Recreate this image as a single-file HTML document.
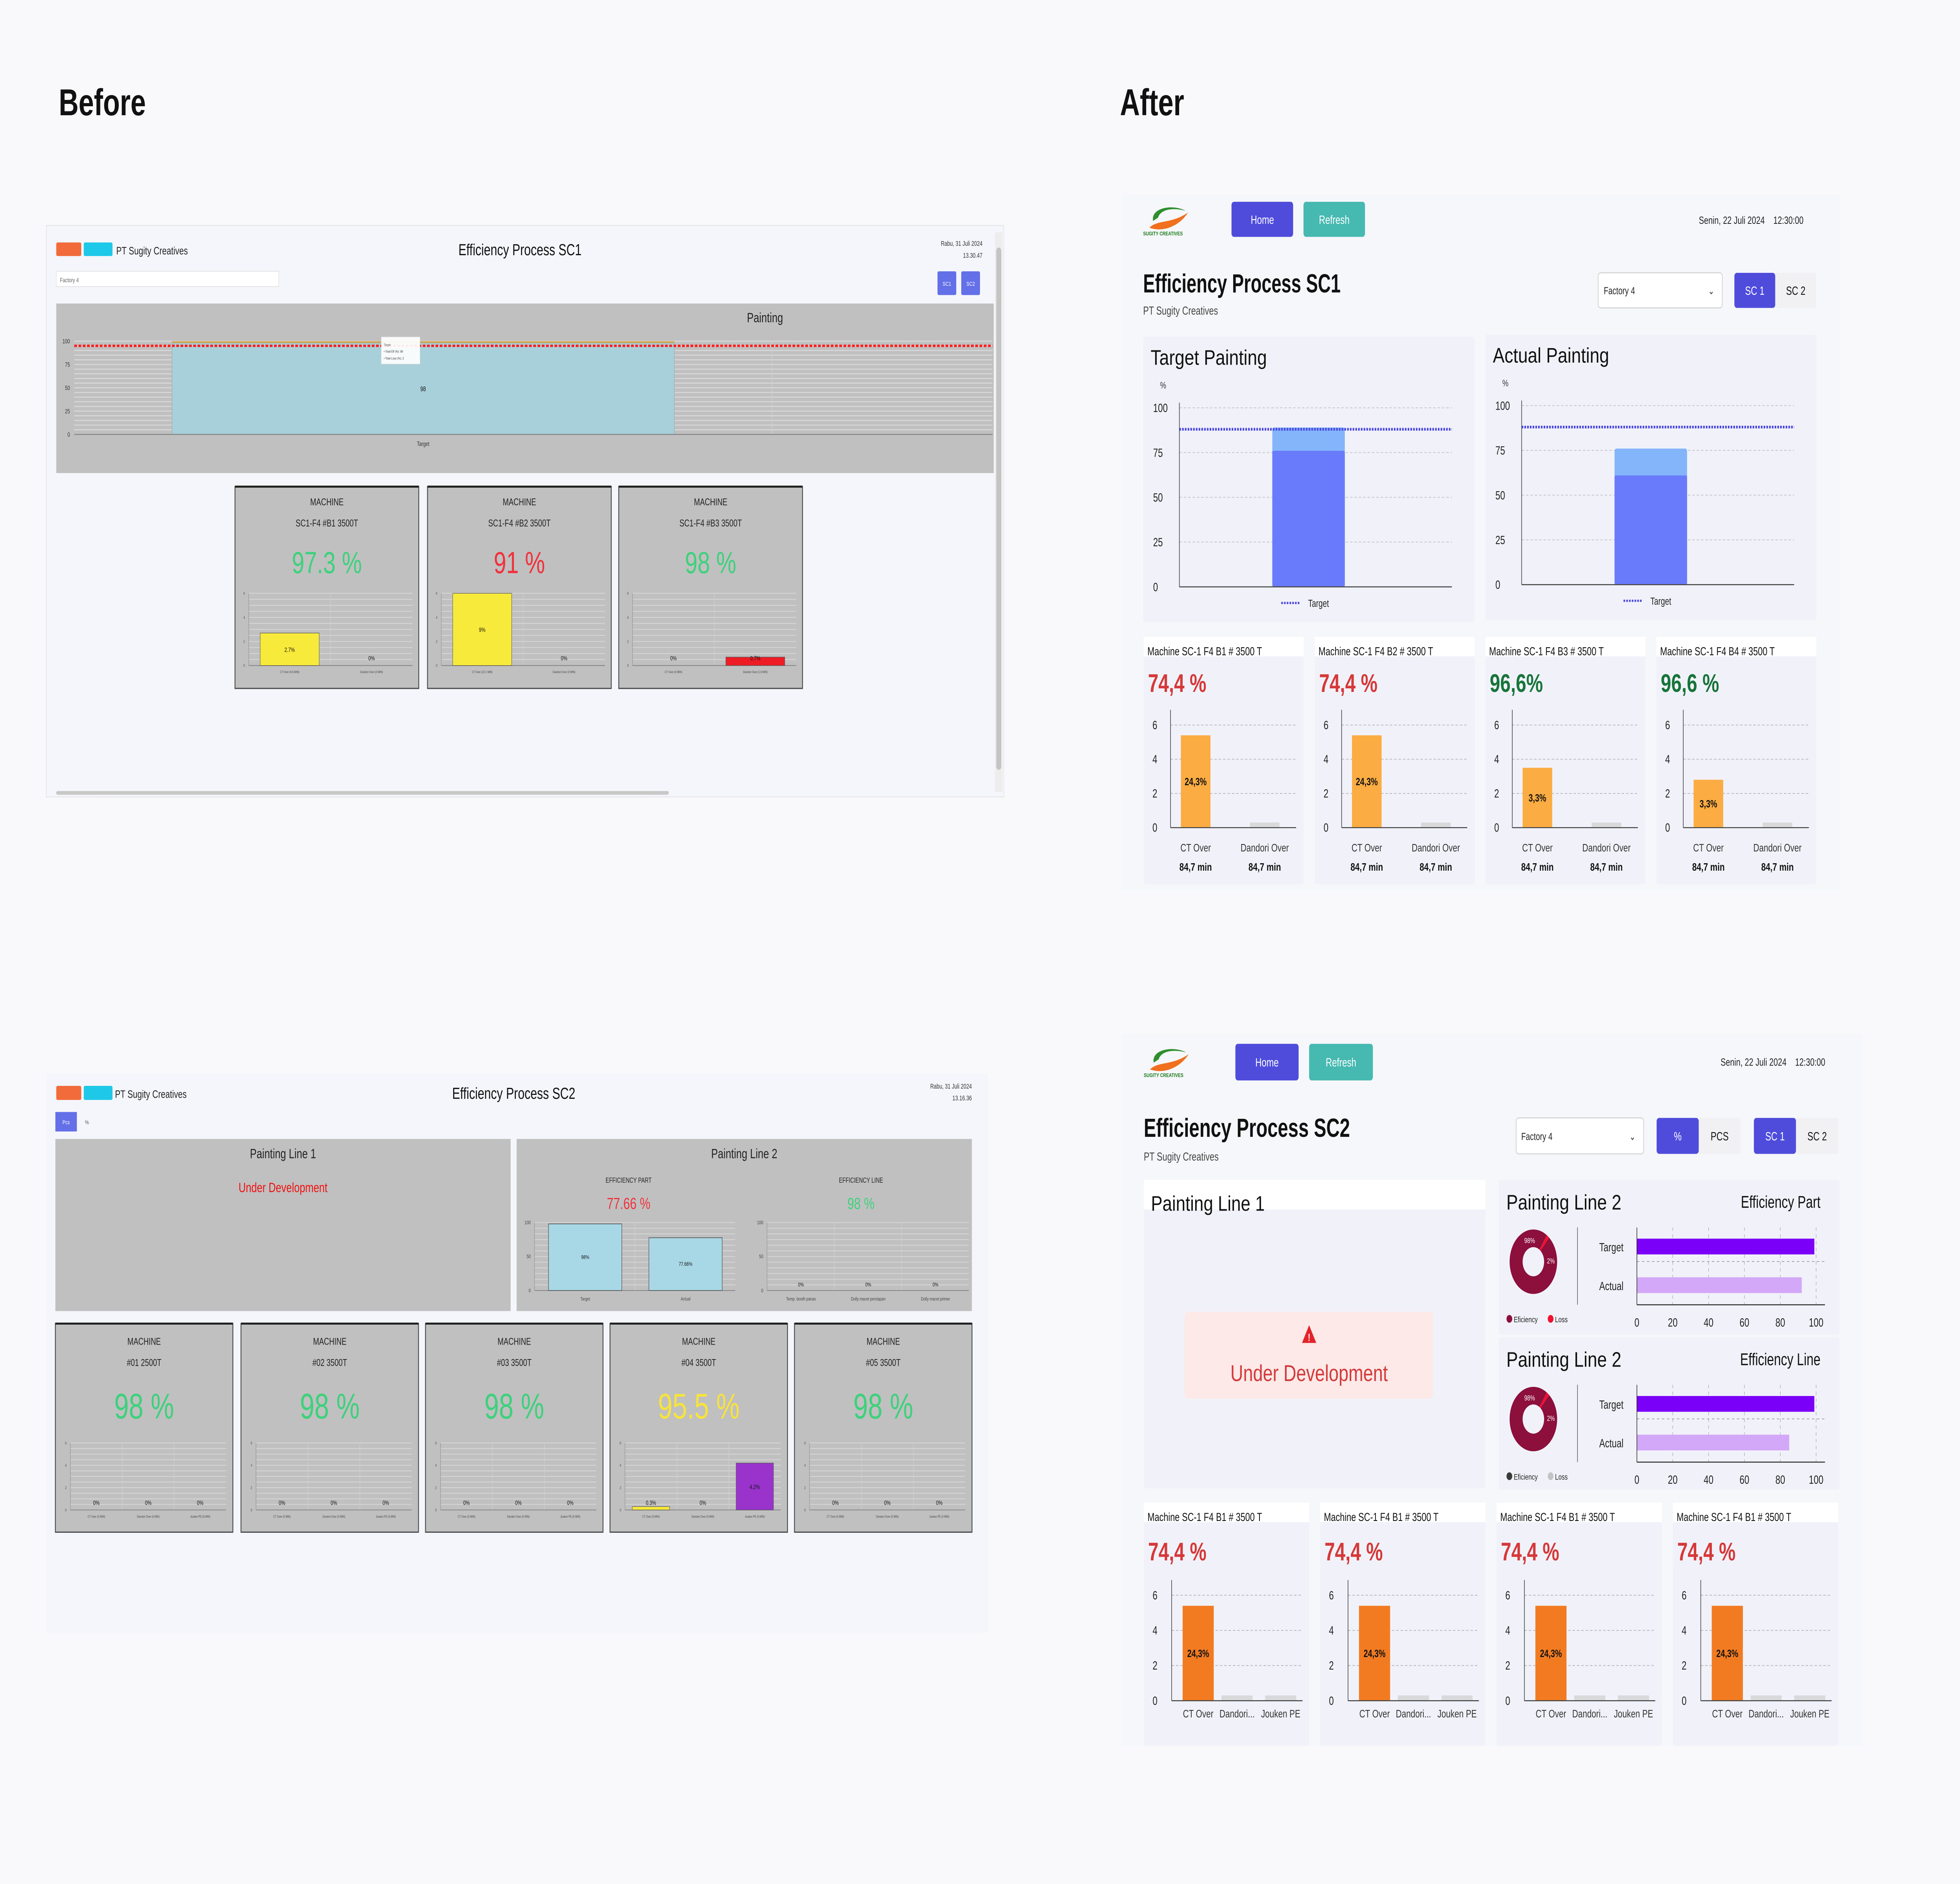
<!DOCTYPE html>
<html><head><meta charset="utf-8"><title>Efficiency Process Before / After</title>
<style>
html,body{margin:0;padding:0;background:#f9f9fb;width:100vw;height:100vh;overflow:hidden;}
svg#root{display:block;position:absolute;left:0;top:0;width:100vw;height:100vh;font-family:"Liberation Sans",Arial,sans-serif;}
</style></head>
<body>
<svg id="root" xmlns="http://www.w3.org/2000/svg" viewBox="0 0 1568 1111.1" preserveAspectRatio="none">
<rect x="0" y="0" width="1568" height="1111.1" fill="#f9f9fb"/>
<text x="47" y="68" font-size="22" font-weight="bold" fill="#111">Before</text>
<text x="896" y="68" font-size="22" font-weight="bold" fill="#111">After</text>

<!-- BEFORE SC1 -->
<g>
<rect x="37" y="133" width="766" height="337" fill="#f4f6fb" stroke="#e4e4e8" stroke-width="0.5"/>
<rect x="45" y="143" width="20" height="8" rx="1" fill="#f26b3a"/>
<rect x="67" y="143" width="23" height="8" rx="1" fill="#1ec8e8"/>
<text x="93" y="150" font-size="6.5" fill="#222">PT Sugity Creatives</text>
<text x="416" y="150.5" font-size="9.5" text-anchor="middle" fill="#111">Efficiency Process SC1</text>
<text x="786" y="145" font-size="4" text-anchor="end" fill="#333">Rabu, 31 Juli 2024</text>
<text x="786" y="152" font-size="4" text-anchor="end" fill="#333">13.30.47</text>
<rect x="45" y="160" width="178" height="9" fill="#fff" stroke="#e0e0e0" stroke-width="0.4"/>
<text x="48" y="166.5" font-size="3.6" fill="#666">Factory 4</text>
<rect x="750" y="160" width="15" height="14" rx="1" fill="#6370e8"/>
<text x="757.5" y="168.5" font-size="3.5" text-anchor="middle" fill="#fff">SC1</text>
<rect x="769" y="160" width="15" height="14" rx="1" fill="#6370e8"/>
<text x="776.5" y="168.5" font-size="3.5" text-anchor="middle" fill="#fff">SC2</text>
<rect x="45" y="179" width="750" height="100" fill="#c0c0c0"/>
<text x="612" y="190" font-size="8" text-anchor="middle" fill="#222">Painting</text>
<rect x="796" y="137" width="6" height="330" fill="#ededed"/>
<rect x="797" y="146" width="4" height="308" rx="2" fill="#c4c4c4"/>
<rect x="45" y="466.5" width="490" height="2.2" rx="1" fill="#c8c8c8"/>
<g id="b1main"></g>
<g id="b1cards"></g>
</g>

<!-- BEFORE SC2 -->
<g>
<rect x="37" y="633" width="753" height="330" fill="#f4f6fb"/>
<rect x="45" y="640.4" width="20" height="8.3" rx="1" fill="#f26b3a"/>
<rect x="67" y="640.4" width="23" height="8.3" rx="1" fill="#1ec8e8"/>
<text x="92" y="647.5" font-size="6.5" fill="#222">PT Sugity Creatives</text>
<text x="411" y="648" font-size="9.5" text-anchor="middle" fill="#111">Efficiency Process SC2</text>
<text x="777.5" y="642" font-size="4" text-anchor="end" fill="#333">Rabu, 31 Juli 2024</text>
<text x="777.5" y="649" font-size="4" text-anchor="end" fill="#333">13.16.36</text>
<rect x="44.3" y="655.8" width="17.2" height="11.5" fill="#6370e8"/>
<text x="52.9" y="663" font-size="3.5" text-anchor="middle" fill="#fff">Pcs</text>
<text x="68" y="663" font-size="3.5" fill="#555">%</text>
<rect x="44.3" y="671.7" width="364.2" height="101.5" fill="#c0c0c0"/>
<text x="226.4" y="683" font-size="8" text-anchor="middle" fill="#222">Painting Line 1</text>
<text x="226.4" y="703" font-size="8" text-anchor="middle" fill="#ee1111">Under Development</text>
<rect x="413.3" y="671.7" width="364.2" height="101.5" fill="#c0c0c0"/>
<text x="595.4" y="683" font-size="8" text-anchor="middle" fill="#222">Painting Line 2</text>
<text x="502.9" y="697.5" font-size="4.2" text-anchor="middle" fill="#222">EFFICIENCY PART</text>
<text x="502.9" y="713" font-size="9.5" text-anchor="middle" fill="#f0323c">77.66 %</text>
<text x="688.8" y="697.5" font-size="4.2" text-anchor="middle" fill="#222">EFFICIENCY LINE</text>
<text x="688.8" y="713" font-size="9.5" text-anchor="middle" fill="#3dd17c">98 %</text>
<g id="b2charts"></g>
<g id="b2cards"></g>
</g>

<!-- AFTER SC1 -->
<g>
<rect x="897" y="115" width="575" height="410" fill="#f6f7fa"/>
<g transform="translate(914.5,120.3)">
<path d="M8 10 C6 2, 24 0, 34 4 C24 2, 14 3, 12 8 Z" fill="#2f8f2f"/>
<path d="M5 14 C12 9, 22 12, 36 5 C29 13, 16 17, 5 14 Z" fill="#f07020"/>
<text x="0" y="18.5" font-size="3.3" font-weight="bold" fill="#1a7a1a">SUGITY CREATIVES</text>
</g>
<rect x="985.2" y="119" width="49.3" height="20.7" rx="2" fill="#4f4cdc"/>
<text x="1009.9" y="132" font-size="7" text-anchor="middle" fill="#fff">Home</text>
<rect x="1042.8" y="119" width="49.2" height="20.7" rx="2" fill="#46b9b1"/>
<text x="1067.4" y="132" font-size="7" text-anchor="middle" fill="#fff">Refresh</text>
<text x="1442.8" y="132" font-size="6.2" text-anchor="end" fill="#222">Senin, 22 Juli 2024 &#160;&#160;&#160;12:30:00</text>
<text x="914.5" y="172.5" font-size="15.5" font-weight="bold" fill="#111" textLength="158" lengthAdjust="spacingAndGlyphs">Efficiency Process SC1</text>
<text x="914.5" y="185.5" font-size="6.8" fill="#444">PT Sugity Creatives</text>
<rect x="1278.5" y="160.9" width="99.3" height="20.7" rx="2" fill="#fff" stroke="#ccc" stroke-width="0.5"/>
<text x="1283" y="173.5" font-size="6" fill="#222">Factory 4</text>
<text x="1369" y="173.5" font-size="6" fill="#333" text-anchor="middle">&#8964;</text>
<rect x="1387.5" y="160.9" width="32.7" height="20.7" rx="2" fill="#4f4cdc"/>
<text x="1403.8" y="173.8" font-size="7" text-anchor="middle" fill="#fff">SC 1</text>
<rect x="1420.2" y="160.9" width="32.8" height="20.7" fill="#f1f1f4"/>
<text x="1436.6" y="173.8" font-size="7" text-anchor="middle" fill="#111">SC 2</text>
<g id="a1paint"></g>
<g id="a1cards"></g>
</g>

<!-- AFTER SC2 -->
<g>
<rect x="897" y="610" width="593" height="420" fill="#f6f7fa"/>
<g transform="translate(915,616.7)">
<path d="M8 10 C6 2, 24 0, 34 4 C24 2, 14 3, 12 8 Z" fill="#2f8f2f"/>
<path d="M5 14 C12 9, 22 12, 36 5 C29 13, 16 17, 5 14 Z" fill="#f07020"/>
<text x="0" y="18.5" font-size="3.3" font-weight="bold" fill="#1a7a1a">SUGITY CREATIVES</text>
</g>
<rect x="988.3" y="615.6" width="50.6" height="21.6" rx="2" fill="#4f4cdc"/>
<text x="1013.6" y="629" font-size="7" text-anchor="middle" fill="#fff">Home</text>
<rect x="1047.3" y="615.6" width="51" height="21.6" rx="2" fill="#46b9b1"/>
<text x="1072.8" y="629" font-size="7" text-anchor="middle" fill="#fff">Refresh</text>
<text x="1460.2" y="628.5" font-size="6.2" text-anchor="end" fill="#222">Senin, 22 Juli 2024 &#160;&#160;&#160;12:30:00</text>
<text x="915" y="670.5" font-size="15.5" font-weight="bold" fill="#111" textLength="165" lengthAdjust="spacingAndGlyphs">Efficiency Process SC2</text>
<text x="915" y="684.5" font-size="6.8" fill="#444">PT Sugity Creatives</text>
<rect x="1212.9" y="659.3" width="102" height="21.2" rx="2" fill="#fff" stroke="#ccc" stroke-width="0.5"/>
<text x="1217" y="672.3" font-size="6" fill="#222">Factory 4</text>
<text x="1306" y="672.3" font-size="6" fill="#333" text-anchor="middle">&#8964;</text>
<rect x="1325.3" y="659.3" width="33.7" height="21.2" rx="2" fill="#4f4cdc"/>
<text x="1342.2" y="672.5" font-size="7" text-anchor="middle" fill="#fff">%</text>
<rect x="1359" y="659.3" width="33.4" height="21.2" fill="#f1f1f4"/>
<text x="1375.7" y="672.5" font-size="7" text-anchor="middle" fill="#111">PCS</text>
<rect x="1403.1" y="659.3" width="33.7" height="21.2" rx="2" fill="#4f4cdc"/>
<text x="1420" y="672.5" font-size="7" text-anchor="middle" fill="#fff">SC 1</text>
<rect x="1436.8" y="659.3" width="33.8" height="21.2" fill="#f1f1f4"/>
<text x="1453.7" y="672.5" font-size="7" text-anchor="middle" fill="#111">SC 2</text>
<rect x="915" y="695.8" width="273.4" height="182" rx="2" fill="#f1f2f9"/>
<rect x="915" y="695.8" width="273.4" height="17.5" fill="#fff"/>
<text x="920.8" y="714" font-size="12.5" fill="#111" textLength="91" lengthAdjust="spacingAndGlyphs">Painting Line 1</text>
<rect x="947.6" y="773.6" width="199" height="51.3" rx="3" fill="#fce9e8"/>
<path d="M1047.3 781.5 L1053 792 L1041.6 792 Z" fill="#e2242a"/>
<text x="1047.3" y="790.8" font-size="6" font-weight="bold" text-anchor="middle" fill="#fff">!</text>
<text x="1047.3" y="814.5" font-size="13.5" text-anchor="middle" fill="#d33a3a" textLength="126" lengthAdjust="spacingAndGlyphs">Under Development</text>
<g id="a2line2"></g>
<g id="a2cards"></g>
</g>
</svg>

<script>
// ---------- DATA ----------
// Before SC1
const b1Categories = ['Target'];
const b1Efficiency = [98];
const b1Loss = [2];
const b1TargetLine = [95];
const b1MachineNames = ['SC1-F4 #B1 3500T', 'SC1-F4 #B2 3500T', 'SC1-F4 #B3 3500T'];
const b1MachinePct = ['97.3 %', '91 %', '98 %'];
const b1MachineGood = [true, false, true];
const b1Ct = [2.7, 9, 0];
const b1Dandori = [0, 0, 0.7];
const b1CtLabels = ['CT Over (6.6 MIN)', 'CT Over (22.1 MIN)', 'CT Over (0 MIN)'];
const b1DandoriLabels = ['Dandori Over (0 MIN)', 'Dandori Over (0 MIN)', 'Dandori Over (1.8 MIN)'];
const b1YTicks = [0, 25, 50, 75, 100];
const miniTicks = [0, 2, 4, 6];
// Before SC2
const b2PartCategories = ['Target', 'Actual'];
const b2PartValues = [98, 77.66];
const b2LineCategories = ['Temp. booth panas', 'Dolly macet persiapan', 'Dolly macet primer'];
const b2LineValues = [0, 0, 0];
const b2YTicks = [0, 50, 100];
const b2MachineNames = ['#01 2500T', '#02 3500T', '#03 3500T', '#04 3500T', '#05 3500T'];
const b2MachinePct = ['98 %', '98 %', '98 %', '95.5 %', '98 %'];
const b2MachineColor = ['#3dd17c', '#3dd17c', '#3dd17c', '#f7e33b', '#3dd17c'];
const b2Ct = [0, 0, 0, 0.3, 0];
const b2Dandori = [0, 0, 0, 0, 0];
const b2Jouken = [0, 0, 0, 4.2, 0];
const b2CatLabels = ['CT Over (0 MIN)', 'Dandori Over (0 MIN)', 'Jouken PE (0 MIN)'];
// After SC1
const a1PaintTitles = ['Target Painting', 'Actual Painting'];
const a1PaintTotal = [89, 76];
const a1PaintBase = [76, 61];
const a1PaintTarget = [88, 88];
const a1YTicks = [0, 25, 50, 75, 100];
const a1MachineNames = ['Machine SC-1 F4 B1 # 3500 T', 'Machine SC-1 F4 B2 # 3500 T', 'Machine SC-1 F4 B3 # 3500 T', 'Machine SC-1 F4 B4 # 3500 T'];
const a1MachinePct = ['74,4 %', '74,4 %', '96,6%', '96,6 %'];
const a1MachineGood = [false, false, true, true];
const a1Ct = [5.4, 5.4, 3.5, 2.8];
const a1CtLabels = ['24,3%', '24,3%', '3,3%', '3,3%'];
const a1Dandori = [0.3, 0.3, 0.3, 0.3];
const a1Categories = ['CT Over', 'Dandori Over'];
const a1Minutes = ['84,7 min', '84,7 min'];
// After SC2
const a2Line2Titles = ['Efficiency Part', 'Efficiency Line'];
const a2DonutEff = [98, 98];
const a2DonutLoss = [2, 2];
const a2HTarget = [99, 99];
const a2HActual = [92, 85];
const a2XTicks = [0, 20, 40, 60, 80, 100];
const a2MachineNames = ['Machine SC-1 F4 B1 # 3500 T', 'Machine SC-1 F4 B1 # 3500 T', 'Machine SC-1 F4 B1 # 3500 T', 'Machine SC-1 F4 B1 # 3500 T'];
const a2MachinePct = ['74,4 %', '74,4 %', '74,4 %', '74,4 %'];
const a2Ct = [5.4, 5.4, 5.4, 5.4];
const a2CtLabels = ['24,3%', '24,3%', '24,3%', '24,3%'];
const a2Dandori = [0.3, 0.3, 0.3, 0.3];
const a2Jouken = [0.3, 0.3, 0.3, 0.3];
const a2Categories = ['CT Over', 'Dandori...', 'Jouken PE'];

// ---------- HELPERS ----------
const NS = 'http://www.w3.org/2000/svg';
function el(tag, attrs, parent) {
  const e = document.createElementNS(NS, tag);
  for (const k in attrs) e.setAttribute(k, attrs[k]);
  parent.appendChild(e);
  return e;
}
function tx(parent, x, y, s, size, fill, anchor, weight) {
  const t = el('text', {x: x, y: y, 'font-size': size, fill: fill || '#222', 'text-anchor': anchor || 'start', 'font-weight': weight || 'normal'}, parent);
  t.textContent = s;
  return t;
}
const clamp = (v, m) => Math.min(v, m);

// ---------- BEFORE SC1 MAIN CHART ----------
(function () {
  const g = document.getElementById('b1main');
  const y0 = 256.2, ppu = 0.55, x0 = 59.4, band = 558.2, xEnd = 794;
  const y = v => y0 - v * ppu;
  const grid = el('g', {}, g);
  
  
  for (let v = 0; v <= 100; v += 5) el('line', {x1: x0, x2: xEnd, y1: y(v), y2: y(v), stroke: '#d9d9d9', 'stroke-width': 0.6}, grid);
  el('line', {x1: x0 + band, x2: x0 + band, y1: y(100), y2: y0, stroke: '#d0d0d0', 'stroke-width': 0.5}, grid);
  b1YTicks.forEach(v => {
    const t = tx(g, 56, y(v) + 1.3, String(v), 3.6, '#333', 'end');
    
    
  });
  b1Categories.forEach((c, i) => {
    const bx = x0 + i * band + band * 0.14, bw = band * 0.72;
    const r = el('rect', {x: bx, y: y(b1Efficiency[i]), width: bw, height: y0 - y(b1Efficiency[i]), fill: '#a8d0da', stroke: '#8fb3bd', 'stroke-width': 0.4}, g);
    
    
    const l = el('rect', {x: bx, y: y(b1Efficiency[i] + b1Loss[i]), width: bw, height: y(b1Efficiency[i]) - y(b1Efficiency[i] + b1Loss[i]), fill: '#d2a659'}, g);
    
    
    const v = tx(g, bx + bw / 2, (y(b1Efficiency[i]) + y0) / 2 + 1.5, String(b1Efficiency[i]), 4, '#111', 'middle');
    
    
    const cl = tx(g, bx + bw / 2, 263, c, 3.6, '#333', 'middle');
    
    
  });
  const tl = el('line', {x1: x0, x2: xEnd, y1: y(b1TargetLine[0]), y2: y(b1TargetLine[0]), stroke: '#ff1c1c', 'stroke-width': 1.4, 'stroke-dasharray': '2.2 1.2'}, g);
  
  
  const ax = el('line', {x1: x0, x2: xEnd, y1: y0, y2: y0, stroke: '#888', 'stroke-width': 0.6}, g);
  
  
  const tip = el('rect', {x: 305, y: 198.7, width: 31, height: 16, fill: '#fff', opacity: 0.92, stroke: '#ddd', 'stroke-width': 0.3}, g);
  
  
  const t1 = tx(g, 307, 204, 'Target', 2, '#555');
  
  
  const t2 = tx(g, 307, 208, '• Total Eff (%): ' + b1Efficiency[0], 2, '#333');
  
  
  const t3 = tx(g, 307, 212, '• Total Loss (%): ' + b1Loss[0], 2, '#333');
  
  
})();

// ---------- generic old-style machine card ----------
function oldCard(parent, x, yTop, w, h, name, pct, pctColor, pctSize, plot, series, colors, catLabels, prefix) {
  const c = el('g', {}, parent);
  
  
  const bg = el('rect', {x: x, y: yTop, width: w, height: h, fill: '#c0c0c0', stroke: '#4a4a4a', 'stroke-width': 0.7}, c);
  
  
  const tb = el('line', {x1: x, x2: x + w, y1: yTop, y2: yTop, stroke: '#222', 'stroke-width': 1.2}, c);
  
  
  const m = tx(c, x + w / 2, yTop + plot.mY, 'MACHINE', 5.8, '#222', 'middle');
  
  
  const n = tx(c, x + w / 2, yTop + plot.nY, name, 5.8, '#222', 'middle');
  
  
  const p = tx(c, x + w / 2, yTop + plot.pY, pct, pctSize, pctColor, 'middle');
  
  
  const base = plot.base, top = plot.top, px0 = x + plot.left, pw = plot.width;
  const y = v => base - clamp(v, 6) / 6 * (base - top);
  const grid = el('g', {}, c);
  
  
  for (let v = 0; v <= 6; v += 0.5) el('line', {x1: px0, x2: px0 + pw, y1: y(v), y2: y(v), stroke: '#d6d6d6', 'stroke-width': 0.5}, grid);
  const nb = series.length, band = pw / nb;
  for (let k = 1; k < nb; k++) el('line', {x1: px0 + k * band, x2: px0 + k * band, y1: top, y2: base, stroke: '#d0d0d0', 'stroke-width': 0.4}, grid);
  el('line', {x1: px0, x2: px0, y1: top, y2: base, stroke: '#999', 'stroke-width': 0.4}, grid);
  el('line', {x1: px0, x2: px0 + pw, y1: base, y2: base, stroke: '#888', 'stroke-width': 0.5}, grid);
  miniTicks.forEach(v => {
    const t = tx(c, px0 - 3, y(v) + 0.8, String(v), 2.4, '#555', 'end');
    
    
  });
  series.forEach((v, i) => {
    const bw = band * 0.72, bx = px0 + i * band + band * 0.14;
    if (v > 0) {
      const r = el('rect', {x: bx, y: y(v), width: bw, height: base - y(v), fill: colors[i], stroke: '#555', 'stroke-width': 0.3}, c);
      
      
    }
    const ly = v > 0 ? Math.min(base - 3, (y(v) + base) / 2 + 1.5) : base - 3;
    const lt = tx(c, bx + bw / 2, ly, v + '%', 3.6, '#111', 'middle');
    
    
    const xl = tx(c, bx + bw / 2, base + 4.5, catLabels[i], 1.9, '#444', 'middle');
    
    
  });
}

// Before SC1 cards
(function () {
  const g = document.getElementById('b1cards');
  const xs = [188, 342, 495];
  b1MachineNames.forEach((nm, i) => {
    oldCard(g, xs[i], 287, 147, 119, nm, b1MachinePct[i], b1MachineGood[i] ? '#3dd17c' : '#f0323c', 18,
      {mY: 11, nY: 23.5, pY: 51, base: 392.5, top: 349.9, left: 11, width: 131},
      [b1Ct[i], b1Dandori[i]], ['#f8ea3a', '#ee1c25'], [b1CtLabels[i], b1DandoriLabels[i]], 'before-sc1');
  });
})();

// Before SC2 charts
(function () {
  const g = document.getElementById('b2charts');
  function vchart(px0, pw, cats, vals, name) {
    const base = 761.1, top = 721;
    const y = v => base - v / 100 * (base - top);
    const grid = el('g', {}, g);
    
    
    for (let v = 0; v <= 100; v += 8.33) el('line', {x1: px0, x2: px0 + pw, y1: y(v), y2: y(v), stroke: '#d6d6d6', 'stroke-width': 0.5}, grid);
    const band = pw / cats.length;
    for (let k = 1; k < cats.length; k++) el('line', {x1: px0 + k * band, x2: px0 + k * band, y1: top, y2: base, stroke: '#d0d0d0', 'stroke-width': 0.4}, grid);
    el('line', {x1: px0, x2: px0 + pw, y1: base, y2: base, stroke: '#888', 'stroke-width': 0.5}, grid);
    el('line', {x1: px0, x2: px0, y1: top, y2: base, stroke: '#999', 'stroke-width': 0.4}, grid);
    b2YTicks.forEach(v => {
      const t = tx(g, px0 - 3, y(v) + 1, String(v), 3, '#444', 'end');
      
      
    });
    cats.forEach((c, i) => {
      const bw = band * 0.73, bx = px0 + i * band + band * 0.14;
      if (vals[i] > 0) {
        const r = el('rect', {x: bx, y: y(vals[i]), width: bw, height: base - y(vals[i]), fill: '#a8d8e6', stroke: '#555', 'stroke-width': 0.4}, g);
        
        
      }
      const ly = vals[i] > 0 ? (y(vals[i]) + base) / 2 + 1 : base - 2.5;
      const lt = tx(g, bx + bw / 2, ly, vals[i] + '%', 3.2, '#111', 'middle');
      
      
      const xl = tx(g, bx + bw / 2, 767, c, 2.8, '#444', 'middle');
      
      
    });
  }
  vchart(427.6, 160.6, b2PartCategories, b2PartValues, 'efficiency-part-chart');
  vchart(613.6, 161.4, b2LineCategories, b2LineValues, 'efficiency-line-chart');
})();

// Before SC2 cards
(function () {
  const g = document.getElementById('b2cards');
  const xs = [44.3, 192.8, 340.4, 488, 635.6];
  b2MachineNames.forEach((nm, i) => {
    oldCard(g, xs[i], 780.6, 142, 123, nm, b2MachinePct[i], b2MachineColor[i], 21,
      {mY: 12.5, nY: 25, pY: 56, base: 890.5, top: 851, left: 12, width: 124.6},
      [b2Ct[i], b2Dandori[i], b2Jouken[i]], ['#f8ea3a', '#ee1c25', '#9933cc'], b2CatLabels, 'before-sc2');
  });
})();

// ---------- AFTER SC1 PAINTING CHARTS ----------
(function () {
  const g = document.getElementById('a1paint');
  const cards = [[914.5, 198.6], [1188.3, 197.3]];
  a1PaintTitles.forEach((title, i) => {
    const cx = cards[i][0], cy = cards[i][1], w = 265, h = 168.5;
    const c = el('g', {}, g);
    
    
    const bg = el('rect', {x: cx, y: cy, width: w, height: h, rx: 2, fill: '#f1f2f9'}, c);
    
    
    const t = tx(c, cx + 6, cy + 16.5, title, 12.5, '#111');
    t.setAttribute('textLength', 93);
    t.setAttribute('lengthAdjust', 'spacingAndGlyphs');
    
    
    const u = tx(c, cx + 16, cy + 30.5, '%', 5.5, '#333', 'middle');
    
    
    const base = cy + 147.5, top = cy + 41.9, px0 = cx + 29, px1 = cx + 247;
    const y = v => base - v / 100 * (base - top);
    a1YTicks.forEach(v => {
      const gl = el('line', {x1: px0, x2: px1, y1: y(v), y2: y(v), stroke: '#c8c8cc', 'stroke-width': 0.5, 'stroke-dasharray': '2 1.5'}, c);
      
      
      const tk = tx(c, cx + 8, y(v) + 2.5, String(v), 7, '#222');
      
      
    });
    const bcx = cx + 132.35, bw = 58;
    const r1 = el('rect', {x: bcx - bw / 2, y: y(a1PaintTotal[i]), width: bw, height: base - y(a1PaintTotal[i]), rx: 1.5, fill: '#84b5fb'}, c);
    
    
    const r2 = el('rect', {x: bcx - bw / 2, y: y(a1PaintBase[i]), width: bw, height: base - y(a1PaintBase[i]), rx: 1, fill: '#697bfb'}, c);
    
    
    const ya = el('line', {x1: px0, x2: px0, y1: top - 3, y2: base, stroke: '#444', 'stroke-width': 0.5}, c);
    
    
    const xa = el('line', {x1: px0, x2: px1, y1: base, y2: base, stroke: '#444', 'stroke-width': 0.6}, c);
    
    
    const tl = el('line', {x1: px0, x2: px1, y1: y(a1PaintTarget[i]), y2: y(a1PaintTarget[i]), stroke: '#4a45e0', 'stroke-width': 1.6, 'stroke-dasharray': '1.3 0.9'}, c);
    
    
    const ll = el('line', {x1: cx + 110.5, x2: cx + 125, y1: cy + 157, y2: cy + 157, stroke: '#4a45e0', 'stroke-width': 1.3, 'stroke-dasharray': '1.3 0.9'}, c);
    
    
    const lt = tx(c, cx + 132, cy + 159.3, 'Target', 6, '#222');
    
    
  });
})();

// ---------- new-style machine card ----------
function newCard(parent, x, yTop, w, h, name, pct, pctColor, plot, vals, colors, cats, valLabel, minutes) {
  const c = el('g', {}, parent);
  
  
  const bg = el('rect', {x: x, y: yTop, width: w, height: h, rx: 2, fill: '#f1f2f9'}, c);
  
  
  const hd = el('rect', {x: x, y: yTop, width: w, height: 11.5, fill: '#fff'}, c);
  
  
  const t = tx(c, x + 3, yTop + 10.8, name, 6.8, '#111');
  
  
  const p = tx(c, x + 3.5, yTop + plot.pY, pct, 15, pctColor, 'start', 'bold');
  
  
  const base = plot.base, top = plot.top, px0 = x + plot.left, px1 = x + plot.right;
  const y = v => base - v / 6 * (base - top);
  [2, 4, 6].forEach(v => {
    const gl = el('line', {x1: px0, x2: px1, y1: y(v), y2: y(v), stroke: '#bdbdc4', 'stroke-width': 0.5, 'stroke-dasharray': '2 1.5'}, c);
    
    
  });
  miniTicks.forEach(v => {
    const tk = tx(c, x + 9, y(v) + 2.4, String(v), 7, '#222', 'middle');
    
    
  });
  const ya = el('line', {x1: px0, x2: px0, y1: top - 9, y2: base, stroke: '#444', 'stroke-width': 0.5}, c);
  
  
  const band = (px1 - px0) / vals.length;
  vals.forEach((v, i) => {
    const bw = plot.barW, bx = px0 + i * band + (band - bw) / 2 + (i === 0 ? plot.firstShift : 0);
    const r = el('rect', {x: bx, y: y(v), width: bw, height: base - y(v), fill: colors[i]}, c);
    
    
    if (i === 0) {
      const vl = tx(c, bx + bw / 2, (y(v) + base) / 2 + 2.2, valLabel, 6.2, '#111', 'middle', 'bold');
      
      
    }
    const cl = tx(c, px0 + i * band + band / 2 + (i === 0 ? plot.firstShift : 0), base + plot.catDy, cats[i], 6.5, '#333', 'middle');
    
    
    if (minutes) {
      const ml = tx(c, px0 + i * band + band / 2 + (i === 0 ? plot.firstShift : 0), base + plot.catDy + 11.4, minutes[i], 6.5, '#111', 'middle', 'bold');
      
      
    }
  });
  const xa = el('line', {x1: px0, x2: px1, y1: base, y2: base, stroke: '#444', 'stroke-width': 0.6}, c);
  
  
}

// After SC1 cards
(function () {
  const g = document.getElementById('a1cards');
  const xs = [914.9, 1051.8, 1188.3, 1325.1];
  a1MachineNames.forEach((nm, i) => {
    newCard(g, xs[i], 375.6, 128, 146, nm, a1MachinePct[i], a1MachineGood[i] ? '#17743a' : '#d63838',
      {pY: 32.5, base: 488.1, top: 427.6, left: 21.5, right: 122, barW: 23.7, firstShift: -5, catDy: 14},
      [a1Ct[i], a1Dandori[i]], ['#fbac42', '#d9d9dc'], a1Categories, a1CtLabels[i], a1Minutes);
  });
})();

// ---------- AFTER SC2 LINE 2 ----------
(function () {
  const g = document.getElementById('a2line2');
  const tops = [695.8, 788.6];
  const x0 = 1199.1, w = 272.6;
  const xs = v => 1309.5 + v / 100 * (1452.9 - 1309.5);
  function pt(cx, cy, r, a) { return [cx + r * Math.sin(a), cy - r * Math.cos(a)]; }
  function arc(cx, cy, R, r, a0, a1) {
    const lg = (a1 - a0) > Math.PI ? 1 : 0;
    const p0 = pt(cx, cy, R, a0), p1 = pt(cx, cy, R, a1), q1 = pt(cx, cy, r, a1), q0 = pt(cx, cy, r, a0);
    return `M${p0[0]} ${p0[1]} A${R} ${R} 0 ${lg} 1 ${p1[0]} ${p1[1]} L${q1[0]} ${q1[1]} A${r} ${r} 0 ${lg} 0 ${q0[0]} ${q0[1]} Z`;
  }
  a2Line2Titles.forEach((title, i) => {
    const ty = tops[i];
    const c = el('g', {}, g);
    
    
    const bg = el('rect', {x: x0, y: ty, width: w, height: i === 0 ? 91.4 : 90, rx: 2, fill: '#f1f2f9'}, c);
    
    
    const t = tx(c, x0 + 6, ty + 17.5, 'Painting Line 2', 12.5, '#111');
    t.setAttribute('textLength', 92);
    t.setAttribute('lengthAdjust', 'spacingAndGlyphs');
    
    
    const st = tx(c, 1456.4, ty + 16.5, title, 10, '#111', 'end');
    
    
    const dcx = 1226.7, dcy = ty + 48.3, R = 19, r = 8.6;
    const tot = a2DonutEff[i] + a2DonutLoss[i];
    const start = 0.6;
    const lossEnd = start + a2DonutLoss[i] / tot * 2 * Math.PI;
    const ls = el('path', {d: arc(dcx, dcy, R, r, start, lossEnd), fill: '#f0112e'}, c);
    
    
    const es = el('path', {d: arc(dcx, dcy, R, r, lossEnd, start + 2 * Math.PI - 0.0001), fill: '#8c0f3c'}, c);
    
    
    const el1 = tx(c, dcx - 3, dcy - 11, a2DonutEff[i] + '%', 4.3, '#fff', 'middle');
    
    
    const el2 = tx(c, dcx + 14, dcy + 1, a2DonutLoss[i] + '%', 4.3, '#fff', 'middle');
    
    
    const lc1 = el('circle', {cx: 1207.5, cy: ty + 82, r: 2.3, fill: i === 0 ? '#8c0f3c' : '#3a3a3a'}, c);
    
    
    const lt1 = tx(c, 1211, ty + 84, 'Eficiency', 4.8, '#222');
    
    
    const lc2 = el('circle', {cx: 1240.5, cy: ty + 82, r: 2.3, fill: i === 0 ? '#f0112e' : '#c4c4c4'}, c);
    
    
    const lt2 = tx(c, 1244, ty + 84, 'Loss', 4.8, '#222');
    
    
    const sep = el('line', {x1: 1262, x2: 1262, y1: ty + 28, y2: ty + 73.7, stroke: '#666', 'stroke-width': 0.5}, c);
    
    
    const pt0 = ty + 28.1, pb = ty + 73.7;
    a2XTicks.forEach(v => {
      if (v > 0) {
        const gl = el('line', {x1: xs(v), x2: xs(v), y1: pt0, y2: pb, stroke: '#aaa', 'stroke-width': 0.4, 'stroke-dasharray': '2 2'}, c);
        
        
      }
      const tk = tx(c, xs(v), ty + 86.5, String(v), 7, '#222', 'middle');
      
      
    });
    const mid = el('line', {x1: xs(0), x2: 1460, y1: ty + 48.2, y2: ty + 48.2, stroke: '#999', 'stroke-width': 0.4, 'stroke-dasharray': '2 2'}, c);
    
    
    const tb = el('rect', {x: xs(0), y: ty + 34.7, width: xs(a2HTarget[i]) - xs(0), height: 9.3, fill: '#7a00f8'}, c);
    
    
    const ab = el('rect', {x: xs(0), y: ty + 57.5, width: xs(a2HActual[i]) - xs(0), height: 9.3, fill: '#d4a8f8'}, c);
    
    
    const l1 = tx(c, 1298.8, ty + 42.2, 'Target', 7, '#222', 'end');
    
    
    const l2 = tx(c, 1298.8, ty + 65, 'Actual', 7, '#222', 'end');
    
    
    const ya = el('line', {x1: xs(0), x2: xs(0), y1: pt0, y2: pb, stroke: '#333', 'stroke-width': 0.5}, c);
    
    
    const xa = el('line', {x1: xs(0), x2: 1460, y1: pb, y2: pb, stroke: '#333', 'stroke-width': 0.6}, c);
    
    
  });
})();

// After SC2 cards
(function () {
  const g = document.getElementById('a2cards');
  const xs = [915, 1056.1, 1197.2, 1338.3];
  a2MachineNames.forEach((nm, i) => {
    newCard(g, xs[i], 886.2, 132.3, 143.3, nm, a2MachinePct[i], '#d63838',
      {pY: 34, base: 1003, top: 940.8, left: 22.3, right: 127, barW: 24.9, firstShift: 3.8, catDy: 9.8},
      [a2Ct[i], a2Dandori[i], a2Jouken[i]], ['#f27b22', '#d9d9dc', '#d9d9dc'], a2Categories, a2CtLabels[i], null);
  });
})();
</script>
</body></html>
